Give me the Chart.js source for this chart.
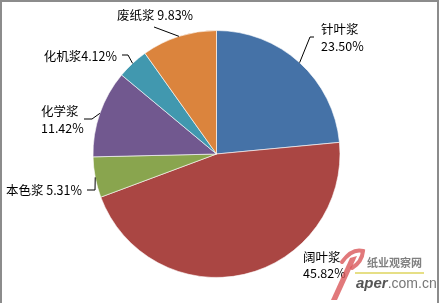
<!DOCTYPE html>
<html>
<head>
<meta charset="utf-8">
<script src="https://cdn.jsdelivr.net/npm/chart.js@4.4.0/dist/chart.umd.min.js"></script>
<style>
  html, body { margin: 0; padding: 0; background: #fff; }
  #wrap { position: relative; width: 440px; height: 303px; }
  #frame {
    position: absolute; left: 0; top: 0; width: 435px; height: 303px;
    border-left: 2px solid #8c8c8c; border-top: 2px solid #8c8c8c; border-right: 2px solid #8c8c8c;
    pointer-events: none;
  }
</style>
</head>
<body>
<div id="wrap">
  <canvas id="chart" width="440" height="303"></canvas>
  <div id="frame"></div>
</div>
<script>
// pulp mix shares (%)
const pulpTypes = ['针叶浆', '阔叶浆', '本色浆', '化学浆', '化机浆', '废纸浆'];
const shares = [23.50, 45.82, 5.31, 11.42, 4.12, 9.83];
const sliceColors = ['#4572A7', '#AA4643', '#89A54E', '#71588F', '#4198AF', '#DB843D'];

// where each data label sits, and the bend of its leader line
const labelLayout = [
  { elbow: [310, 37], end: [314, 37], x: 321, ys: [29, 46], align: 'left', sep: '\n' },
  { elbow: null, x: 303, ys: [257, 273], align: 'left', sep: '\n' },
  { elbow: [95, 190], end: [87, 190], x: 82, ys: [190], align: 'right', sep: ' ' },
  { elbow: [92, 119], end: [84, 119], x: 41, ys: [111, 128], align: 'left', sep: '\n' },
  { elbow: [128, 55], end: [122, 55], x: 117, ys: [56], align: 'right', sep: '' },
  { elbow: [154, 27], end: [154, 27], x: 117, ys: [15], align: 'left', sep: ' ' }
];

const FONT = '"Noto Sans CJK SC", "Noto Sans", sans-serif';

const pieLabels = {
  id: 'pieLabels',
  afterDatasetsDraw(chart) {
    const ctx = chart.ctx;
    const arcs = chart.getDatasetMeta(0).data;
    ctx.save();
    ctx.strokeStyle = '#000';
    ctx.lineWidth = 1;
    ctx.fillStyle = '#000';
    ctx.font = '12.5px ' + FONT;
    ctx.textBaseline = 'middle';
    arcs.forEach((arc, i) => {
      const lay = labelLayout[i];
      const { x, y, startAngle, endAngle, outerRadius } = arc.getProps(['x', 'y', 'startAngle', 'endAngle', 'outerRadius'], true);
      const mid = (startAngle + endAngle) / 2;
      if (lay.elbow) {
        const sx = x + Math.cos(mid) * outerRadius;
        const sy = y + Math.sin(mid) * outerRadius;
        ctx.beginPath();
        ctx.moveTo(sx, sy);
        ctx.lineTo(lay.elbow[0], lay.elbow[1]);
        ctx.lineTo(lay.end[0], lay.end[1]);
        ctx.stroke();
      }
      const text = pulpTypes[i] + lay.sep + shares[i].toFixed(2) + '%';
      ctx.textAlign = lay.align;
      text.split('\n').forEach((line, k) => ctx.fillText(line, lay.x, lay.ys[k]));
    });
    ctx.restore();
  },
  afterDraw(chart) {
    // site watermark, bottom right
    const ctx = chart.ctx;
    ctx.save();
    ctx.globalAlpha = 0.8;
    ctx.fillStyle = '#d9585a';
    ctx.beginPath();
    ctx.moveTo(350, 258);
    ctx.lineTo(357, 256);
    ctx.lineTo(337, 300);
    ctx.lineTo(331, 300);
    ctx.closePath();
    ctx.fill();
    ctx.strokeStyle = '#d9585a';
    ctx.lineWidth = 4;
    ctx.lineCap = 'round';
    ctx.beginPath();
    ctx.moveTo(342, 262);
    ctx.quadraticCurveTo(352, 248, 363, 251);
    ctx.quadraticCurveTo(362, 262, 352, 268);
    ctx.stroke();
    ctx.globalAlpha = 1;
    ctx.fillStyle = '#808080';
    ctx.font = 'bold 11px ' + FONT;
    ctx.textAlign = 'left';
    ctx.textBaseline = 'middle';
    ctx.fillText('纸业观察网', 367, 263);
    ctx.strokeStyle = '#e6df86';
    ctx.lineWidth = 2;
    ctx.lineCap = 'butt';
    ctx.beginPath();
    ctx.moveTo(355, 273);
    ctx.lineTo(424, 273);
    ctx.stroke();
    ctx.textBaseline = 'alphabetic';
    ctx.fillStyle = '#555';
    ctx.font = 'italic bold 15px "Liberation Sans", sans-serif';
    ctx.fillText('aper', 356, 288);
    const w = ctx.measureText('aper').width;
    ctx.fillStyle = '#777';
    ctx.font = '14px "Liberation Sans", sans-serif';
    ctx.fillText('.com.cn', 356 + w, 288);
    ctx.restore();
  }
};

new Chart(document.getElementById('chart'), {
  type: 'pie',
  data: {
    labels: pulpTypes,
    datasets: [{
      data: shares,
      backgroundColor: sliceColors,
      borderColor: 'rgba(255,255,255,0.6)',
      borderWidth: 1
    }]
  },
  options: {
    responsive: false,
    animation: false,
    layout: { padding: { left: 92, top: 30, right: 99, bottom: 25 } },
    plugins: {
      legend: { display: false },
      tooltip: { enabled: false }
    }
  },
  plugins: [pieLabels]
});
</script>
</body>
</html>
